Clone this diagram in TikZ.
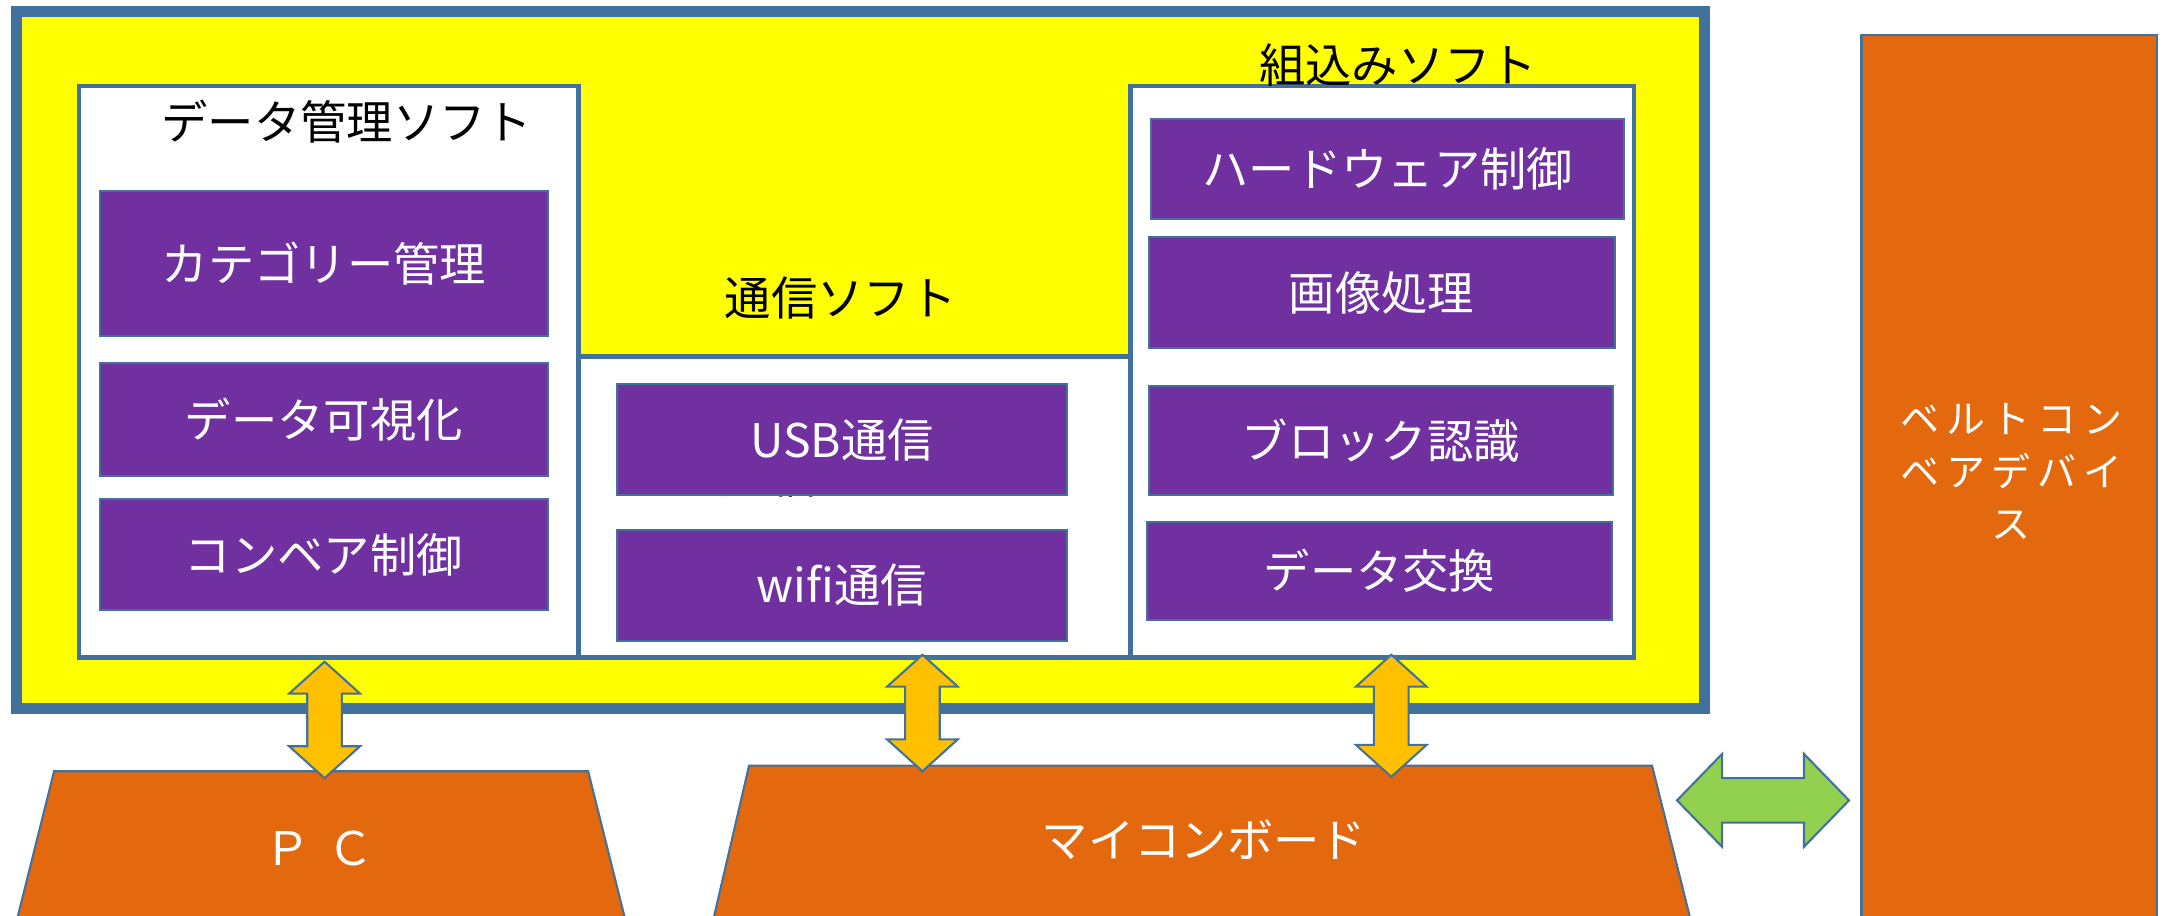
\documentclass[tikz,border=0pt]{standalone}
\usepackage{fontspec}
\setmainfont{Noto Sans CJK JP}
\usetikzlibrary{fit}
\definecolor{bblue}{RGB}{65,113,156}
\definecolor{fpurple}{RGB}{112,48,160}
\definecolor{horange}{RGB}{228,104,14}
\definecolor{aorange}{RGB}{255,192,0}
\definecolor{lgreen}{RGB}{146,208,80}
\definecolor{fyellow}{RGB}{255,255,0}
\tikzset{
  jfont/.style={font=\fontsize{19}{23}\selectfont},
  frame/.style={draw=bblue, line width=0.16cm, fill=fyellow, inner sep=0pt},
  soft/.style={draw=bblue, line width=0.07cm, fill=white, inner sep=0pt},
  func/.style={draw=bblue, line width=0.03cm, fill=fpurple, inner sep=0pt},
  functext/.style={text=white, jfont, inner sep=0pt},
  ttl/.style={jfont, text=black, inner sep=0pt},
  hwshape/.style={draw=bblue, line width=0.03cm, fill=horange},
  hwtext/.style={text=white, jfont, inner sep=0pt},
  oarrow/.style={draw=bblue, line width=0.03cm, fill=aorange},
  garrow/.style={draw=bblue, line width=0.03cm, fill=lgreen},
}
\newcommand{\vdarr}[3]{%
  \draw[oarrow] (#1,#2) -- (#1+25.5,#2+23) -- (#1+12.5,#2+23) -- (#1+12.5,#3-23)
    -- (#1+25.5,#3-23) -- (#1,#3) -- (#1-25.5,#3-23) -- (#1-12.5,#3-23)
    -- (#1-12.5,#2+23) -- (#1-25.5,#2+23) -- cycle;}
\newcommand{\funcbox}[4]{%
  \node[func, fit={#2#3}] (#1) {};
  \node[functext] (#1t) at (#1.center) {#4};}
\begin{document}
\begin{tikzpicture}[x=0.02cm, y=-0.02cm]
\useasboundingbox (0,0) rectangle (1568,660);
% outer frame
\node[frame, fit={(12,8)(1229,511)}] (frame) {};
% software boxes
\node[soft, fit={(57,62)(417,474)}] (dm) {};
\node[soft, fit={(417,257)(815,474)}] (comm) {};
\node[soft, fit={(815,62)(1178,474)}] (emb) {};
% titles
\node[ttl] (dmt) at (250,88) {データ管理ソフト};
\node[ttl] (commt) at (606,215) {通信ソフト};
\node[ttl, anchor=base] (ghost) at (606,356) {通信ソフト};
% function boxes
\funcbox{cat}{(72,138)}{(395,242)}{カテゴリー管理}
\funcbox{vis}{(72,262)}{(395,343)}{データ可視化}
\funcbox{conv}{(72,360)}{(395,440)}{コンベア制御}
\funcbox{usb}{(445,277)}{(769,357)}{USB通信}
\funcbox{wifi}{(445,382)}{(769,462)}{wifi通信}
\funcbox{hwc}{(830,86)}{(1171,158)}{ハードウェア制御}
\funcbox{img}{(828,171)}{(1164,251)}{画像処理}
\funcbox{blk}{(828,278)}{(1163,357)}{ブロック認識}
\funcbox{dex}{(827,376)}{(1162,447)}{データ交換}
\node[ttl] (embt) at (1008,47) {組込みソフト};
% hardware
\coordinate (pc1) at (39,556); \coordinate (pc2) at (424,556);
\coordinate (pc3) at (451,664); \coordinate (pc4) at (12,664);
\draw[hwshape] (pc1) -- (pc2) -- (pc3) -- (pc4) -- cycle;
\node[hwtext] (pc) at (230,612) {Ｐ\kern7ptＣ};
\coordinate (mc1) at (540,552); \coordinate (mc2) at (1191,552);
\coordinate (mc3) at (1219,664); \coordinate (mc4) at (514,664);
\draw[hwshape] (mc1) -- (mc2) -- (mc3) -- (mc4) -- cycle;
\node[hwtext] (mc) at (868,605) {マイコンボード};
\node[hwshape, inner sep=0pt, fit={(1342,25)(1555,668)}] (belt) {};
\node[hwtext, align=center, font=\fontsize{16}{21.5}\selectfont\addfontfeature{LetterSpace=17}] (beltt) at (1450,340) {ベルトコン\\ベアデバイ\\ス};
% connectors
\vdarr{234}{477}{561}
\vdarr{665}{472}{556}
\vdarr{1003}{472}{560}
\draw[garrow] (1209,577) -- (1241.5,543.5) -- (1241.5,561) -- (1300.5,561) -- (1300.5,543.5)
  -- (1333,577) -- (1300.5,610.5) -- (1300.5,593) -- (1241.5,593) -- (1241.5,610.5) -- cycle;
\end{tikzpicture}
\end{document}
